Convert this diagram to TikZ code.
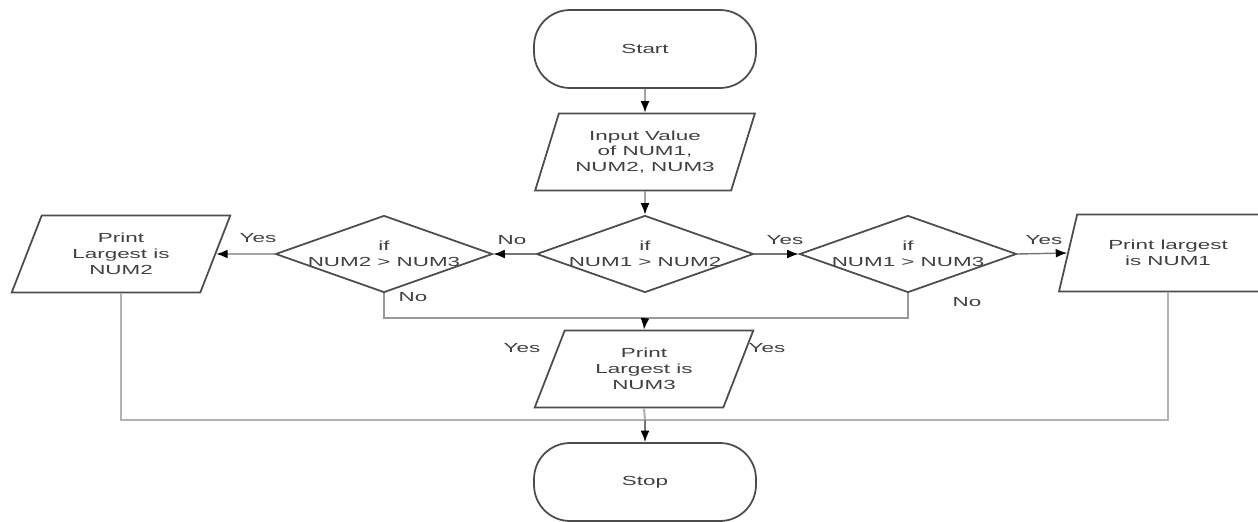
\documentclass[tikz,border=0pt]{standalone}
\usepackage{fontspec}
\setmainfont{Liberation Sans}[FakeStretch=1.7]
\usetikzlibrary{shapes,arrows,positioning,calc,arrows.meta}

\begin{document}
\begin{tikzpicture}[x=0.02cm, y=-0.02cm,
    font=\fontsize{7.5}{9}\selectfont, text=black!75,
    term/.style={draw=black!70, line width=1pt, rounded corners=0.72cm, minimum width=4.44cm, minimum height=1.56cm},
    io/.style={draw=black!70, line width=1pt, trapezium, trapezium left angle=67, trapezium right angle=113, trapezium stretches=true, minimum width=4.4cm, minimum height=1.54cm, align=center, inner sep=1pt},
    cond/.style={draw=black!70, line width=1pt, diamond, aspect=2.8, minimum width=4.34cm, minimum height=1.54cm, inner sep=-1.5pt, align=center},
    flow/.style={-{Latex[length=6.5pt,width=5pt,black]}, draw=black!55, line width=0.8pt},
    back/.style={draw=black!30, line width=1.2pt}]
    \useasboundingbox (0,0) rectangle (1258,521);

    \node[term] (start) at (645,49) {Start};
    \node[io] (input) at (645,152) {Input Value\\of NUM1,\\NUM2, NUM3};
    \node[cond] (c12) at (645,254) {if\\NUM1 > NUM2};
    \node[cond] (c23) at (384,254) {if\\NUM2 > NUM3};
    \node[cond] (c13) at (908,254) {if\\NUM1 > NUM3};
    \node[io] (pr2) at (121,254) {Print\\Largest is\\NUM2};
    \node[io] (pr1) at (1168,253) {Print largest\\is NUM1};
    \node[io] (pr3) at (644,369) {Print\\Largest is\\NUM3};
    \node[term] (stop) at (645,482) {Stop};

    \draw[flow] (start) -- (input);
    \draw[flow] (input) -- (c12);
    \draw[flow] (c12.west) -- (c23.east);
    \draw[flow] (c23.west) -- (pr2.east);
    \draw[flow] (c12.east) -- (c13.west);
    \draw[flow] (c13.east) -- (pr1.west);

    % No branches
    \coordinate (nojoin) at (645,318);
    \draw[back, draw=black!40] (c23.south) |- (nojoin) -| (c13.south);
    \draw[flow] (nojoin) -- (pr3.north);

    % Results to stop
    \coordinate (endjoin) at (645,420);
    \draw[back] (pr2.south) |- (endjoin) -| (pr1.south);
    \draw[back] (pr3.south) -- (endjoin);
    \draw[flow] (endjoin) -- (stop.north);

    \node (no12) at (512,240) {No};
    \node (yes23) at (258,238) {Yes};
    \node (yes12) at (785,240) {Yes};
    \node (yes13) at (1044,240) {Yes};
    \node (no23) at (413,297) {No};
    \node (no13) at (967,302) {No};
    \node (yesl) at (522,348) {Yes};
    \node (yesr) at (767,348) {Yes};
\end{tikzpicture}
\end{document}
